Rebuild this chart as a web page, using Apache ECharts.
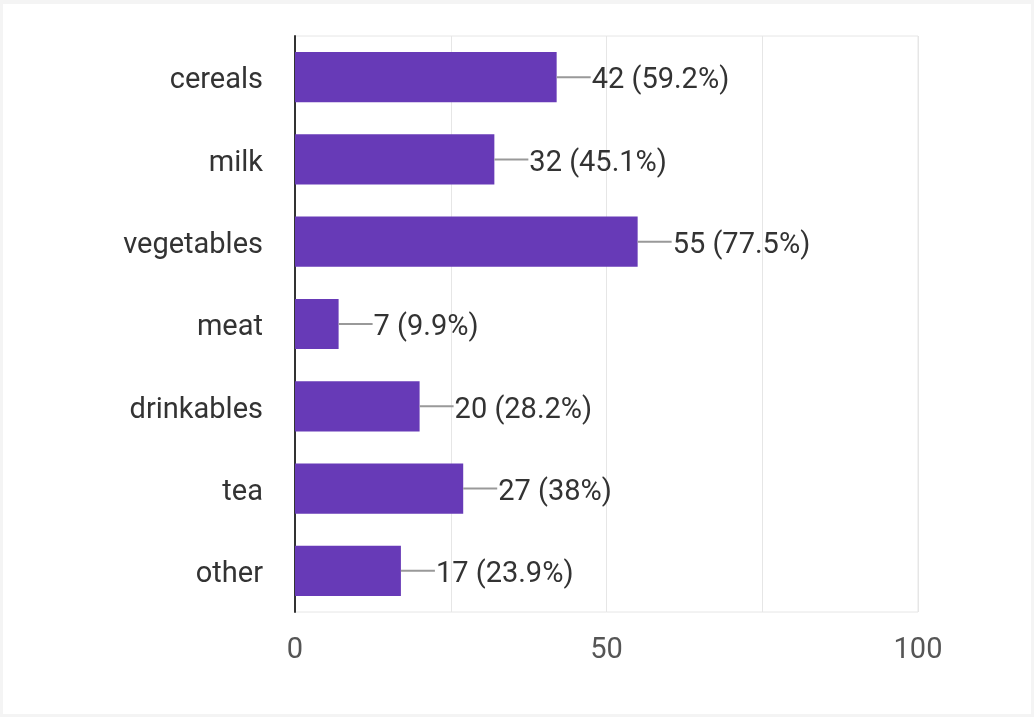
<!DOCTYPE html>
<html>
<head>
<meta charset="utf-8">
<script src="https://cdn.jsdelivr.net/npm/echarts@6/dist/echarts.min.js"></script>
<style>
html,body{margin:0;padding:0;background:#f4f4f4;}
#c{position:absolute;left:3px;top:4px;width:1028px;height:710px;background:#fff;}
</style>
</head>
<body>
<div id="c"></div>
<script>
const categories = ['cereals','milk','vegetables','meat','drinkables','tea','other'];
const counts = [42, 32, 55, 7, 20, 27, 17];
const percents = ['59.2%','45.1%','77.5%','9.9%','28.2%','38%','23.9%'];
const xTicks = [0, 50, 100];

const chart = echarts.init(document.getElementById('c'), null, {renderer:'canvas'});
const FONT = 'Roboto, "Noto Sans", sans-serif';
chart.setOption({
  animation:false,
  grid:{left:292, right:113, top:32, bottom:102, show:true, borderColor:'#e6e6e6', borderWidth:1, backgroundColor:'transparent'},
  xAxis:{
    type:'value', min:0, max:100, interval:25,
    axisLine:{show:false}, axisTick:{show:false},
    splitLine:{show:true, lineStyle:{color:'#e6e6e6', width:1}},
    axisLabel:{
      fontFamily:FONT, fontSize:29, color:'#555', margin:24,
      formatter:function(v){ return xTicks.indexOf(v) >= 0 ? String(v) : ''; }
    }
  },
  yAxis:{
    type:'category', data:categories, inverse:true,
    axisLine:{show:true, lineStyle:{color:'#333', width:2}},
    axisTick:{show:false},
    axisLabel:{
      margin:32,
      formatter:function(v){ return '{a|' + v + '}'; },
      rich:{a:{fontFamily:FONT, fontSize:29, color:'#333', lineHeight:29, padding:[8,0,0,0]}}
    }
  },
  series:[
    {
      type:'bar', data:counts, barWidth:'61%',
      itemStyle:{color:'#673ab7'},
      label:{
        show:true, position:'right', distance:35, offset:[0,4],
        fontFamily:FONT, fontSize:29, color:'#333',
        formatter:function(p){ return p.value + ' (' + percents[p.dataIndex] + ')'; }
      },
      z:2
    },
    {
      type:'custom',
      data:counts.map(function(v,i){ return [v,i]; }),
      renderItem:function(params, api){
        const p = api.coord([api.value(0), api.value(1)]);
        return {
          type:'line',
          shape:{x1:p[0], y1:p[1], x2:p[0]+34, y2:p[1]},
          style:{stroke:'#999', lineWidth:2}
        };
      },
      z:3, silent:true
    }
  ]
});
</script>
</body>
</html>
